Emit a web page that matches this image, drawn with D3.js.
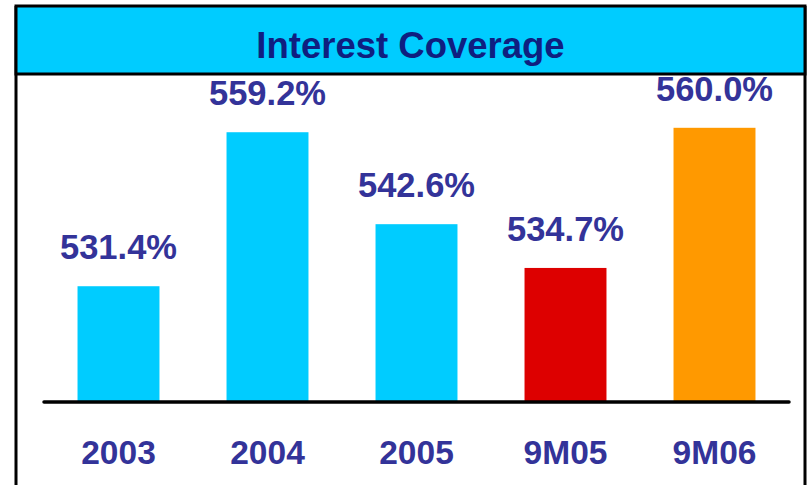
<!DOCTYPE html>
<html>
<head>
<meta charset="utf-8">
<script src="https://cdn.jsdelivr.net/npm/d3@7"></script>
<style>
  html, body { margin: 0; padding: 0; background: #ffffff; }
  svg { display: block; }
</style>
</head>
<body>
<svg id="chart" width="807" height="485"></svg>
<script>
// Interest coverage by period
const categories = ["2003", "2004", "2005", "9M05", "9M06"];
const coverage = [531.4, 559.2, 542.6, 534.7, 560.0];
const valueLabels = ["531.4%", "559.2%", "542.6%", "534.7%", "560.0%"];
const barColors = ["#00CCFF", "#00CCFF", "#00CCFF", "#DD0000", "#FF9900"];
const title = "Interest Coverage";

const W = 807, H = 485;
const frame = { left: 16, right: 805, top: 6, titleBottom: 74 };
const axisY = 402;
const fontFamily = "'Liberation Sans', Arial, Helvetica, sans-serif";

const svg = d3.select("#chart");

const x = d3.scaleBand()
  .domain(categories)
  .range([44, 789])
  .paddingInner(0.45)
  .paddingOuter(0.225);

const y = d3.scaleLinear()
  .domain([510.5, 560])
  .range([axisY, 127.8]);

// Frame: side borders and the title banner
svg.append("line")
  .attr("x1", frame.left).attr("x2", frame.left)
  .attr("y1", frame.top).attr("y2", H + 2)
  .attr("stroke", "#000").attr("stroke-width", 3);
svg.append("line")
  .attr("x1", frame.right).attr("x2", frame.right)
  .attr("y1", frame.top).attr("y2", H + 2)
  .attr("stroke", "#000").attr("stroke-width", 3);

svg.append("rect")
  .attr("x", frame.left).attr("y", frame.top)
  .attr("width", frame.right - frame.left)
  .attr("height", frame.titleBottom - frame.top)
  .attr("fill", "#00CCFF")
  .attr("stroke", "#000").attr("stroke-width", 3);

svg.append("text")
  .attr("x", (frame.left + frame.right) / 2)
  .attr("y", 57.5)
  .attr("text-anchor", "middle")
  .attr("font-family", fontFamily)
  .attr("font-weight", "bold")
  .attr("font-size", 36.5)
  .attr("fill", "#0F1F80")
  .text(title);

// Bars
const data = categories.map((c, i) => ({ cat: c, value: coverage[i], label: valueLabels[i], color: barColors[i] }));

svg.append("g").selectAll("rect")
  .data(data)
  .join("rect")
  .attr("x", d => x(d.cat))
  .attr("width", x.bandwidth())
  .attr("y", d => y(d.value))
  .attr("height", d => axisY - y(d.value))
  .attr("fill", d => d.color);

// Value labels above bars
svg.append("g").selectAll("text")
  .data(data)
  .join("text")
  .attr("x", d => x(d.cat) + x.bandwidth() / 2)
  .attr("y", d => y(d.value) - 27)
  .attr("text-anchor", "middle")
  .attr("font-family", fontFamily)
  .attr("font-weight", "bold")
  .attr("font-size", 34.5)
  .attr("fill", "#333399")
  .text(d => d.label);

// Baseline
svg.append("line")
  .attr("x1", 44).attr("x2", 789)
  .attr("y1", axisY).attr("y2", axisY)
  .attr("stroke", "#000")
  .attr("stroke-width", 3.5)
  .attr("stroke-linecap", "round");

// Category axis labels
const xAxis = d3.axisBottom(x).tickSize(0).tickPadding(0);
const gx = svg.append("g")
  .attr("transform", `translate(0,${axisY})`)
  .call(xAxis);
gx.select(".domain").remove();
gx.selectAll("text")
  .attr("dy", null)
  .attr("y", 62)
  .attr("font-family", fontFamily)
  .attr("font-weight", "bold")
  .attr("font-size", 33.5)
  .attr("fill", "#333399");
</script>
</body>
</html>
